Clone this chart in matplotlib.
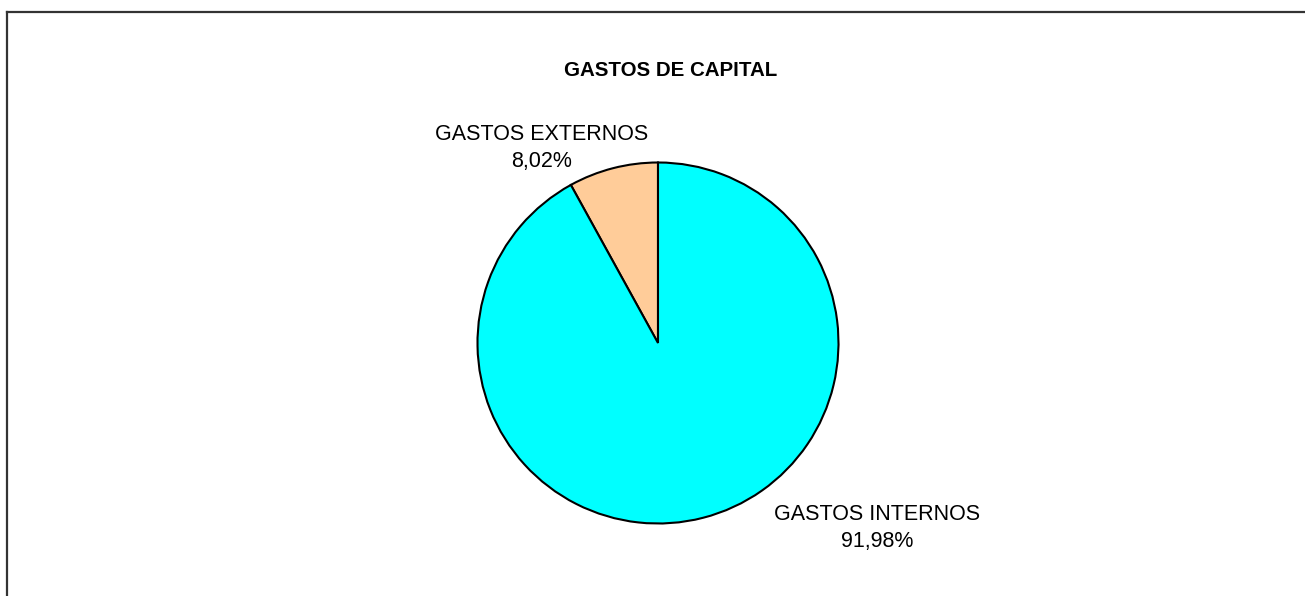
import matplotlib
matplotlib.use("Agg")
import matplotlib.pyplot as plt
from matplotlib.lines import Line2D

plt.rcParams['font.family'] = ['Liberation Sans', 'DejaVu Sans']

title = "GASTOS DE CAPITAL"
categories = ["GASTOS EXTERNOS", "GASTOS INTERNOS"]
values = [8.02, 91.98]
value_labels = ["8,02%", "91,98%"]
colors = ["#FFCC99", "#00FFFF"]

W, H = 1305, 596
fig = plt.figure(figsize=(W / 100, H / 100), dpi=100)

# pie axes: centre (658, 343) px, radius ~180.5 px
cx, cy, r = 658, 343, 180.5
ax = fig.add_axes([(cx - r) / W, (H - cy - r) / H, 2 * r / W, 2 * r / H])
ax.pie(values, colors=colors, startangle=90, counterclock=True, radius=1,
       wedgeprops=dict(edgecolor="black", linewidth=1.5))
ax.set_xlim(-1, 1)
ax.set_ylim(-1, 1)
ax.set_aspect("equal")
ax.axis("off")

fs = 15.5
fig.text(670.5 / W, 1 - 70 / H, title, ha="center", va="center",
         fontsize=14.8, fontweight="bold")

label_pos = [(541.5, 148), (877.5, 528)]
for (x, y), c, v in zip(label_pos, categories, value_labels):
    fig.text(x / W, 1 - y / H, f"{c}\n{v}", ha="center", va="center",
             fontsize=fs, linespacing=1.42)

# frame lines (top and left only)
fig.add_artist(Line2D([7 / W, 1], [1 - 12 / H, 1 - 12 / H], transform=fig.transFigure,
                      color="#333333", linewidth=1.6))
fig.add_artist(Line2D([7 / W, 7 / W], [0, 1 - 12 / H], transform=fig.transFigure,
                      color="#333333", linewidth=1.6))

fig.savefig("out.png", dpi=100)
